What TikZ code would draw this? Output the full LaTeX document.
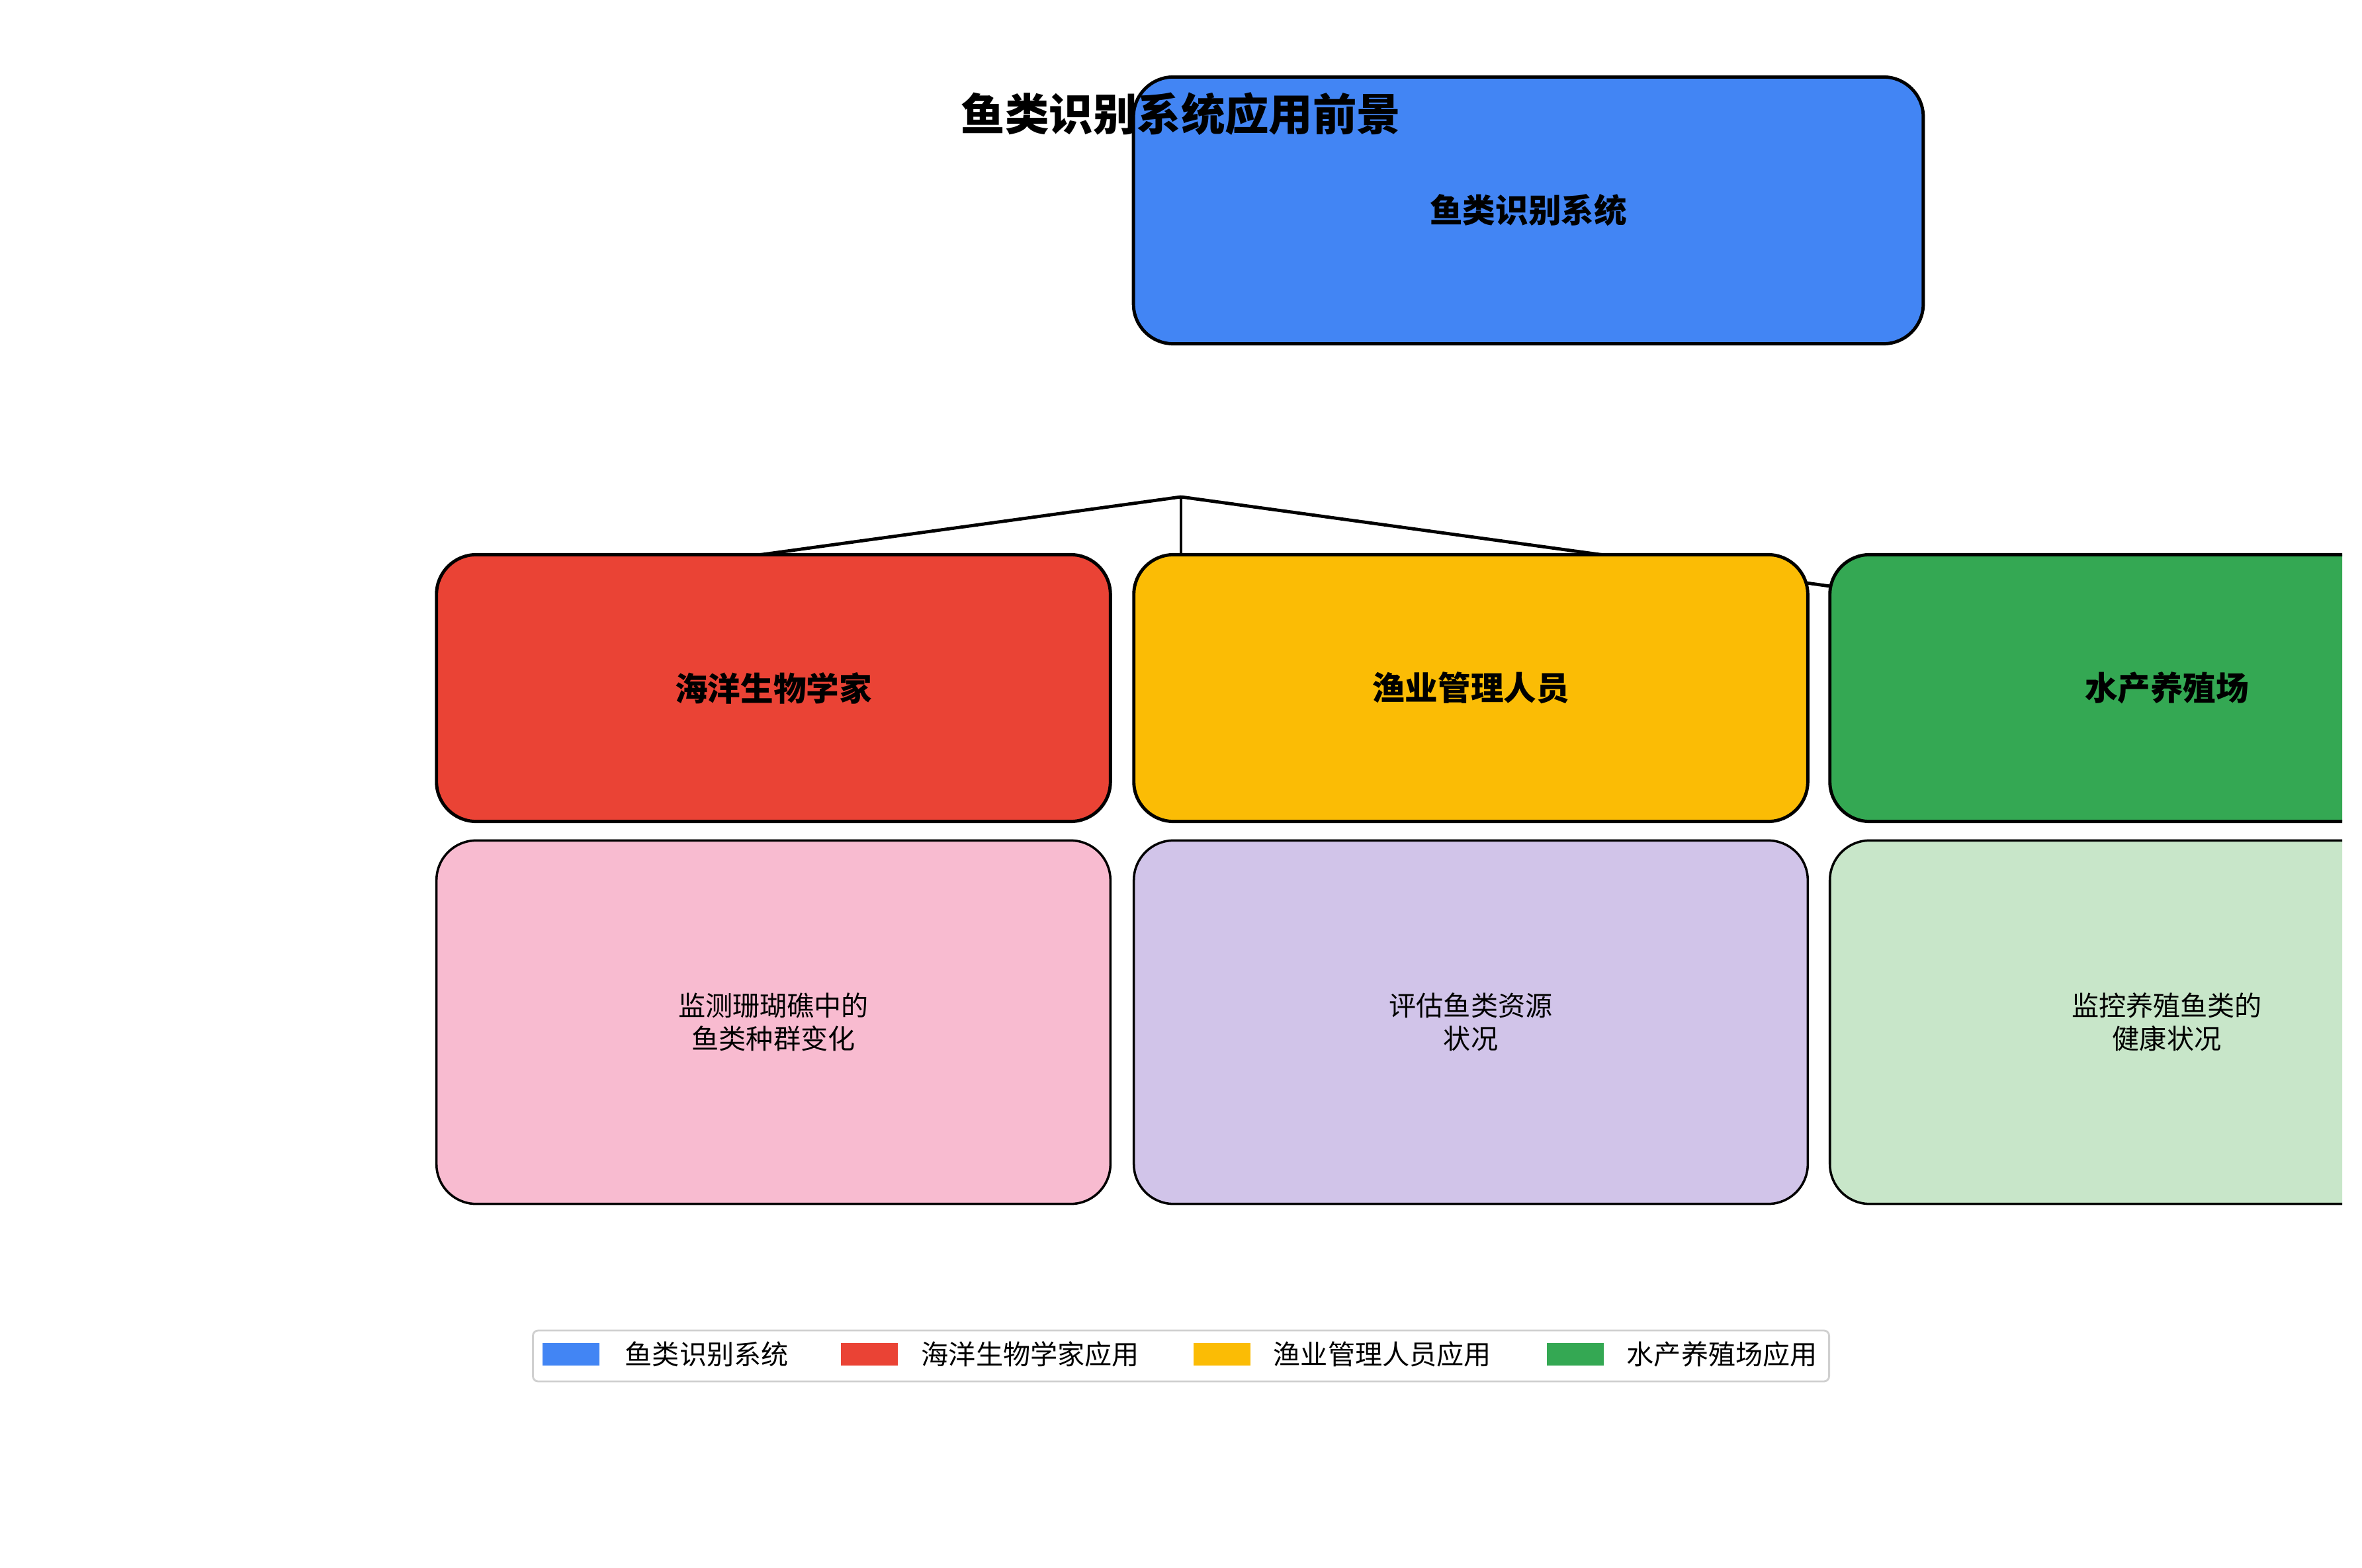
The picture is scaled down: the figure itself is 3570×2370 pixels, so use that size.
\documentclass[tikz,border=0pt]{standalone}
\usepackage{fontspec}
\setmainfont{Noto Sans CJK SC}
\usepackage{xcolor}
\usepackage{tikz}
\usetikzlibrary{backgrounds}

\definecolor{sysblue}{HTML}{4285F4}
\definecolor{biored}{HTML}{EA4335}
\definecolor{fishyellow}{HTML}{FBBC05}
\definecolor{farmgreen}{HTML}{34A853}
\definecolor{biopink}{HTML}{F8BBD0}
\definecolor{fishlilac}{HTML}{D1C4E9}
\definecolor{farmmint}{HTML}{C8E6C9}
\definecolor{keyframe}{HTML}{D0D0D0}

\tikzset{
    headbox/.style={draw=black, line width=1.4pt, rounded corners=0.6cm, inner sep=0pt,
        minimum width=10.18cm, minimum height=4.03cm, font=\fontsize{14.1}{17}\selectfont\bfseries},
    notebox/.style={draw=black, line width=1pt, rounded corners=0.6cm, inner sep=0pt, align=center,
        minimum width=10.18cm, minimum height=5.49cm, font=\fontsize{11.7}{14.2}\selectfont},
    link/.style={line width=1.4pt},
    keypatch/.style={minimum width=0.86cm, minimum height=0.34cm, inner sep=0pt},
    keytext/.style={anchor=west, inner sep=0pt, font=\fontsize{11.7}{14}\selectfont},
}

\begin{document}
\begin{tikzpicture}[x=0.01cm, y=-0.01cm]
    \useasboundingbox (0,0) rectangle (3570,2370);
    \begin{scope}
    \clip (0,0) rectangle (3540,2370);
    % system box
    \node[headbox, fill=sysblue, minimum width=11.93cm] (sys) at (2310,318) {鱼类识别系统};
    % user groups
    \node[headbox, fill=biored] (bio) at (1169,1040) {海洋生物学家};
    \node[headbox, fill=fishyellow] (fish) at (2223,1040) {渔业管理人员};
    \node[headbox, fill=farmgreen] (farm) at (3275,1040) {水产养殖场};
    % use cases
    \node[notebox, fill=biopink] (bionote) at (1169,1545) {监测珊瑚礁中的\\鱼类种群变化};
    \node[notebox, fill=fishlilac] (fishnote) at (2223,1545) {评估鱼类资源\\状况};
    \node[notebox, fill=farmmint] (farmnote) at (3275,1545) {监控养殖鱼类的\\健康状况};
    \end{scope}

    % connectors under the boxes
    \coordinate (hub) at (1785,751);
    \coordinate (biojoin) at (804,886);
    \coordinate (farmjoin) at (2766,886);
    \begin{scope}[on background layer]
        \draw[link] (hub) -- (biojoin);
        \draw[link] (hub) -- (hub |- fish.north);
        \draw[link] (hub) -- (farmjoin);
    \end{scope}

    % legend
    \node[draw=keyframe, line width=0.8pt, rounded corners=0.08cm, fill=white,
        minimum width=19.58cm, minimum height=0.77cm] (key) at (1785,2049.5) {};
    \node[keypatch, fill=sysblue] (keysys) at (863,2047) {};
    \node[keytext] (keysyslabel) at (944,2047) {鱼类识别系统};
    \node[keypatch, fill=biored] (keybio) at (1314,2047) {};
    \node[keytext] (keybiolabel) at (1392,2047) {海洋生物学家应用};
    \node[keypatch, fill=fishyellow] (keyfish) at (1847,2047) {};
    \node[keytext] (keyfishlabel) at (1924,2047) {渔业管理人员应用};
    \node[keypatch, fill=farmgreen] (keyfarm) at (2381,2047) {};
    \node[keytext] (keyfarmlabel) at (2458,2047) {水产养殖场应用};

    % title
    \node[font=\fontsize{18.9}{22}\selectfont\bfseries] (title) at (1785,172) {鱼类识别系统应用前景};
\end{tikzpicture}
\end{document}
